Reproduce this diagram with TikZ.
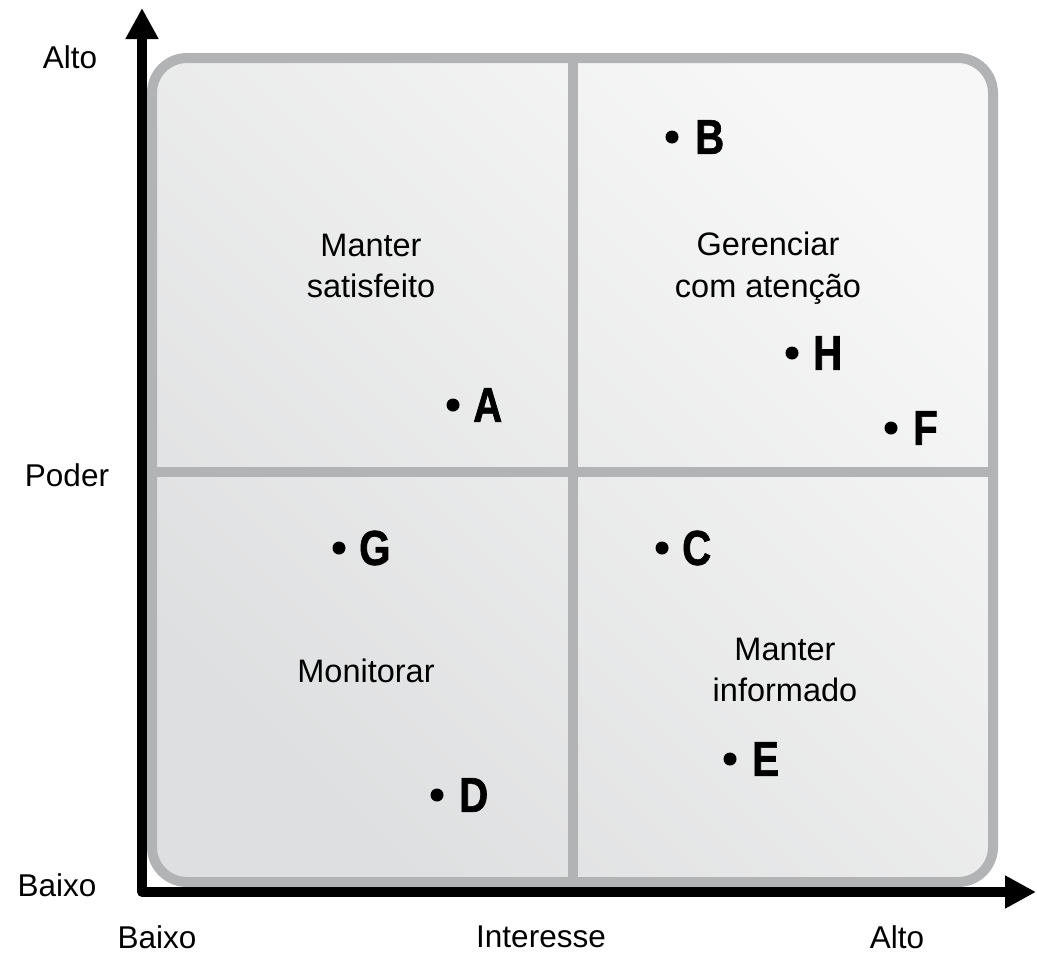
\documentclass[tikz,border=0pt]{standalone}
\usepackage{fontspec}
\setmainfont{Liberation Sans}
\newfontfamily\heavyfont[FakeStretch=0.82, BoldFeatures={FakeBold=1.3}]{Liberation Sans}
\usetikzlibrary{arrows.meta}
\definecolor{bordergray}{RGB}{178,179,181}
\definecolor{filllight}{RGB}{247,247,247}
\definecolor{filldark}{RGB}{222,223,224}
\begin{document}
\begin{tikzpicture}[x=1pt,y=-1pt,
  axislabel/.style={font=\fontsize{31.5}{36}\selectfont, inner sep=0pt},
  quadlabel/.style={font=\fontsize{32.5}{41.5}\selectfont, align=center, inner sep=0pt},
  dot/.style={circle, fill=black, minimum size=13pt, inner sep=0pt},
  letter/.style={font=\heavyfont\bfseries\fontsize{49}{49}\selectfont, anchor=west, inner sep=0pt},
  frame/.style={draw=bordergray, line width=10pt},
  divider/.style={draw=bordergray, line width=10pt},
  axis/.style={line width=9.5pt, line join=round, {Triangle[length=31pt,width=31pt]}-{Triangle[length=31pt,width=31pt]}}]
\useasboundingbox (0,0) rectangle (1037,956);

% frame with gradient fill
\path[frame, top color=filllight, bottom color=filldark, shading angle=-45, rounded corners=35pt]
  (152,58) rectangle (993,882);

% dividers
\coordinate (vtop) at (573,58);
\coordinate (vbot) at (573,882);
\coordinate (hleft) at (152,472);
\coordinate (hright) at (993,472);
\draw[divider] (vtop) -- (vbot);
\draw[divider] (hleft) -- (hright);

% axes
\coordinate (ytip) at (142,8);
\coordinate (origin) at (142,892);
\coordinate (xtip) at (1036,892);
\draw[axis] (ytip) -- (origin) -- (xtip);

% axis labels
\node[axislabel] (yhigh) at (70,57) {Alto};
\node[axislabel] (ymid) at (67,475) {Poder};
\node[axislabel] (ylow) at (57,885) {Baixo};
\node[axislabel] (xlow) at (157,937) {Baixo};
\node[axislabel] (xmid) at (541,937) {Interesse};
\node[axislabel] (xhigh) at (897,937) {Alto};

% quadrant labels
\node[quadlabel] (q1) at (371,266) {Manter\\satisfeito};
\node[quadlabel] (q2) at (768,268) {Gerenciar\\com atenção};
\node[quadlabel] (q3) at (366,671) {Monitorar};
\node[quadlabel] (q4) at (785,670) {Manter\\informado};

% stakeholders
\node[dot] (dA) at (453,405) {};
\node[letter] (lA) at ([xshift=20pt]dA.center) {A};
\node[dot] (dB) at (672,137) {};
\node[letter] (lB) at ([xshift=23pt]dB.center) {B};
\node[dot] (dH) at (792,353) {};
\node[letter] (lH) at ([xshift=21pt]dH.center) {H};
\node[dot] (dF) at (891,428) {};
\node[letter] (lF) at ([xshift=22pt]dF.center) {F};
\node[dot] (dG) at (339,548) {};
\node[letter] (lG) at ([xshift=20pt]dG.center) {G};
\node[dot] (dC) at (662,548) {};
\node[letter] (lC) at ([xshift=20pt]dC.center) {C};
\node[dot] (dE) at (730,759) {};
\node[letter] (lE) at ([xshift=22pt]dE.center) {E};
\node[dot] (dD) at (437,795) {};
\node[letter] (lD) at ([xshift=22pt]dD.center) {D};
\end{tikzpicture}
\end{document}
